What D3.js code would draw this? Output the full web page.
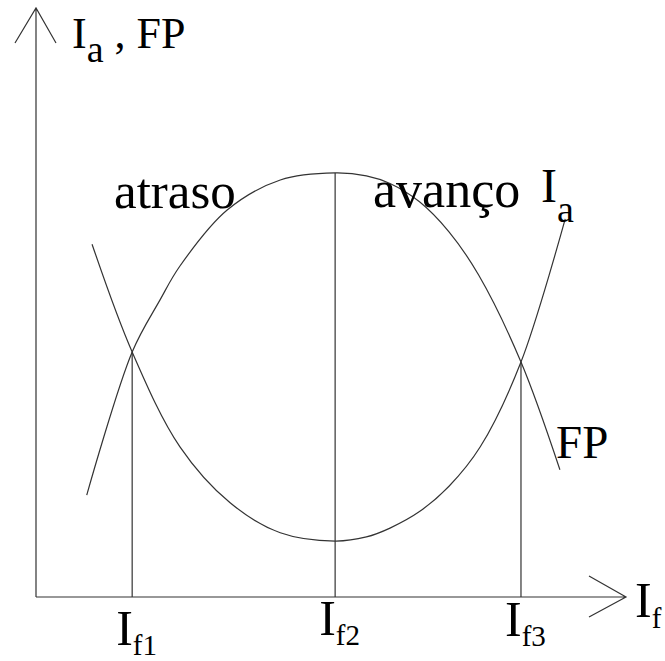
<!DOCTYPE html>
<html lang="pt">
<head>
  <meta charset="UTF-8">
  <title>Curvas V - motor síncrono</title>
  <script src="https://d3js.org/d3.v7.min.js"></script>
  <style>
    body { margin: 0; background: white; }
    svg { display: block; }
    text { font-family: 'Liberation Serif', 'Times New Roman', serif; fill: #000; }
    .curve { fill: none; stroke: #333; stroke-width: 1.2; }
    .axis, .guide { stroke: #333; stroke-width: 1.2; fill: none; }
  </style>
</head>
<body>
  <svg id="chart" width="665" height="661"></svg>

  <script>
    // curve points (If, value) in chart units 0..10
    var fpPoints = [
      [0.86, 1.73], [1.63, 4.16], [2.10, 5.04], [2.44, 5.62], [3.24, 6.57],
      [4.14, 7.08], [5.07, 7.20], [5.60, 7.15], [6.00, 7.02], [6.50, 6.71],
      [7.00, 6.20], [7.50, 5.47], [8.22, 3.99], [8.88, 2.16]
    ];
    var iaPoints = [
      [0.95, 5.99], [1.63, 4.16], [2.44, 2.55], [3.29, 1.60], [4.14, 1.09],
      [5.07, 0.95], [5.60, 1.02], [6.00, 1.17], [6.50, 1.45], [7.00, 1.88],
      [7.53, 2.55], [8.22, 3.99], [8.97, 6.42]
    ];
    // field currents marked on the axis and height of their guide lines
    var ifValues = [1.63, 5.07, 8.22];
    var ifTops = [4.16, 7.20, 3.99];
    var ifSubs = ["f1", "f2", "f3"];
    var regionLabels = ["atraso", "avanço"];

    var svg = d3.select("#chart");
    var x = d3.scaleLinear().domain([0, 10]).range([36, 626]);
    var y = d3.scaleLinear().domain([0, 10]).range([597, 8]);

    var line = d3.line()
      .x(d => x(d[0]))
      .y(d => y(d[1]))
      .curve(d3.curveCatmullRom.alpha(0.5));

    // axes with open arrow heads
    svg.append("path").attr("class", "axis")
      .attr("d", `M${x(0)},${y(0)} L${x(0)},${y(10)} M${x(0) - 21},${y(10) + 35} L${x(0)},${y(10)} L${x(0) + 20},${y(10) + 35}`);
    svg.append("path").attr("class", "axis")
      .attr("d", `M${x(0)},${y(0)} L${x(10)},${y(0)} M${x(10) - 37},${y(0) - 21} L${x(10)},${y(0)} L${x(10) - 37},${y(0) + 20}`);

    // guide lines
    svg.selectAll(".guide")
      .data(ifValues)
      .join("line")
      .attr("class", "guide")
      .attr("x1", d => x(d)).attr("x2", d => x(d))
      .attr("y1", y(0))
      .attr("y2", (d, i) => y(ifTops[i]));

    svg.append("path").attr("class", "curve").attr("d", line(fpPoints));
    svg.append("path").attr("class", "curve").attr("d", line(iaPoints));

    // If labels under the axis
    var ifBase = [645, 635, 636];
    ifValues.forEach(function(v, i) {
      var t = svg.append("text")
        .attr("x", x(v) - 16)
        .attr("y", ifBase[i])
        .attr("font-size", 50)
        .text("I");
      t.append("tspan").attr("font-size", 29).attr("dy", 10).text(ifSubs[i]);
    });

    // axis titles
    var yt = svg.append("text").attr("x", 72).attr("y", 48).attr("font-size", 44).text("I");
    yt.append("tspan").attr("font-size", 38).attr("dy", 14).text("a");
    yt.append("tspan").attr("dy", -14).text(" , FP");

    var xt = svg.append("text").attr("x", 635).attr("y", 617).attr("font-size", 50).text("I");
    xt.append("tspan").attr("font-size", 29).attr("dy", 11).text("f");

    // region and curve labels
    svg.append("text").attr("x", 114).attr("y", 208).attr("font-size", 51).text(regionLabels[0]);
    svg.append("text").attr("x", 373).attr("y", 207).attr("font-size", 52).text(regionLabels[1]);

    var ia = svg.append("text").attr("x", 541).attr("y", 202).attr("font-size", 48).text("I");
    ia.append("tspan").attr("font-size", 38).attr("dy", 20).text("a");

    svg.append("text").attr("x", 556).attr("y", 458).attr("font-size", 47).text("FP");
  </script>
</body>
</html>
